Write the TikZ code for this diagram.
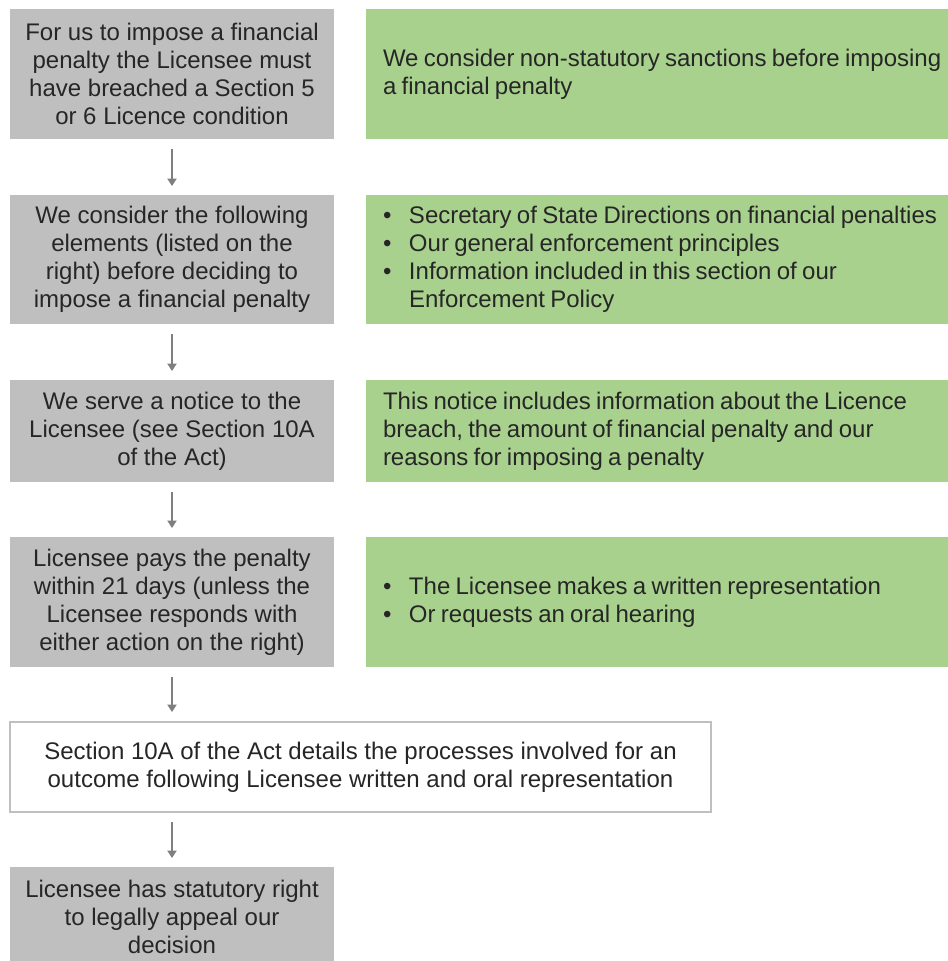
\documentclass[tikz,border=0pt]{standalone}
\usepackage{fontspec}
\setmainfont{Liberation Sans}
\usetikzlibrary{arrows.meta}
\definecolor{boxgray}{HTML}{BFBFBF}
\definecolor{boxgreen}{HTML}{A9D18E}
\definecolor{ink}{HTML}{262626}
\definecolor{arrowgray}{HTML}{7F7F7F}
\newcommand{\bodyfont}{\fontsize{18}{21}\selectfont}
% one unbroken, tighter-spaced line of a note; a bulleted line; a continued bulleted line
\newcommand{\noteline}[1]{\mbox{\spaceskip=0.22em\relax #1}}
\newcommand{\bulline}[1]{\mbox{\spaceskip=0.22em\relax\makebox[19.5pt][l]{•}#1}}
\newcommand{\contline}[1]{\mbox{\spaceskip=0.22em\relax\hspace*{19.5pt}#1}}
\hbadness=10000 \hfuzz=200pt
\begin{document}
\begin{tikzpicture}[x=0.75pt,y=-0.75pt,
  every node/.style={font=\bodyfont, text=ink,
    inner sep=0pt, outer sep=0pt, anchor=north west},
  graybox/.style={fill=boxgray, minimum width=243pt, align=center},
  greenbox/.style={fill=boxgreen, minimum width=436.5pt, text width=411pt, align=left},
  whitebox/.style={fill=white, draw=boxgray, line width=1pt, minimum width=525.75pt, align=center},
  flow/.style={draw=arrowgray, line width=1.5pt,
    -{Triangle[width=6.75pt,length=5.5pt]}}]
\useasboundingbox (0,0) rectangle (948,961);

% left column: process steps
\node[graybox, minimum height=97.5pt] (g1) at (10,9)
  {For us to impose a financial\\penalty the Licensee must\\have breached a Section 5\\or 6 Licence condition};
\node[graybox, minimum height=96.75pt] (g2) at (10,195)
  {We consider the following\\elements (listed on the\\right) before deciding to\\impose a financial penalty};
\node[graybox, minimum height=76.5pt] (g3) at (10,380)
  {We serve a notice to the\\Licensee (see Section 10A\\of the Act)};
\node[graybox, minimum height=97.5pt] (g4) at (10,537)
  {Licensee pays the penalty\\within 21 days (unless the\\Licensee responds with\\either action on the right)};
\node[whitebox, minimum height=67.5pt] (w) at (10,722)
  {Section 10A of the Act details the processes involved for an\\outcome following Licensee written and oral representation};
\node[graybox, minimum height=75pt] (g6) at (10,867)
  {Licensee has statutory right\\to legally appeal our\\decision};

% right column: notes
\node[greenbox, minimum height=97.5pt] (r1) at (366,9)
  {\noteline{We consider non-statutory sanctions before imposing}\\
   \noteline{a financial penalty}};
\node[greenbox, minimum height=96.75pt] (r2) at (366,195)
  {\bulline{Secretary of State Directions on financial penalties}\\
   \bulline{Our general enforcement principles}\\
   \bulline{Information included in this section of our}\\
   \contline{Enforcement Policy}};
\node[greenbox, minimum height=76.5pt] (r3) at (366,380)
  {\noteline{This notice includes information about the Licence}\\
   \noteline{breach, the amount of financial penalty and our}\\
   \noteline{reasons for imposing a penalty}};
\node[greenbox, minimum height=97.5pt] (r4) at (366,537)
  {\bulline{The Licensee makes a written representation}\\
   \bulline{Or requests an oral hearing}};

% connectors
\draw[flow, shorten <=7.5pt, shorten >=6.75pt] (g1.south) -- (g2.north);
\draw[flow, shorten <=7.5pt, shorten >=6.75pt] (g2.south) -- (g3.north);
\draw[flow, shorten <=7.5pt, shorten >=6.75pt] (g3.south) -- (g4.north);
\draw[flow, shorten <=7.5pt, shorten >=7.5pt] (g4.south) -- (g4.south |- w.north);
\draw[flow, shorten <=7.5pt, shorten >=6.75pt] (g4.south |- w.south) -- (g6.north);
\end{tikzpicture}
\end{document}
